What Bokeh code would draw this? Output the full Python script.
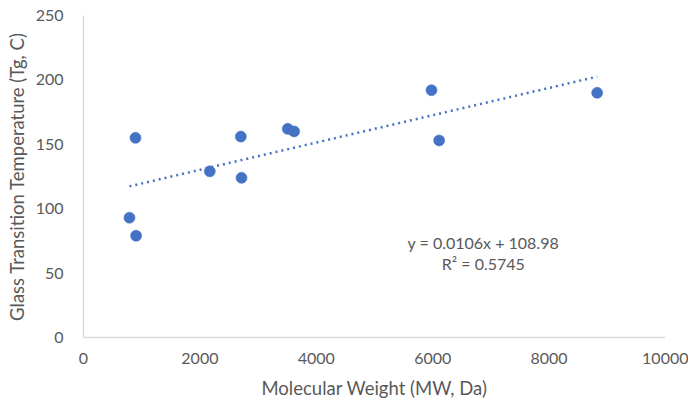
from bokeh.plotting import figure
from bokeh.models import ColumnDataSource, Label, Range1d, FixedTicker
from bokeh.embed import file_html
from bokeh.resources import INLINE

# Data
mw = [790, 904, 893, 2170, 2703, 2715, 3510, 3619, 5979, 6111, 8826]
tg = [93, 79, 155, 129, 156, 124, 162, 160, 192, 153, 190]

slope = 0.0106
intercept = 108.98
r_squared = 0.5745

x_ticks = [0, 2000, 4000, 6000, 8000, 10000]
y_ticks = [0, 50, 100, 150, 200, 250]

x_title = "Molecular Weight (MW, Da)"
y_title = "Glass Transition Temperature (Tg, C)"

FONT = "Lato"
BLUE = "#4472C4"
GREY_TXT = "#595959"
AXIS_COL = "#D9D9D9"

p = figure(width=688, height=402, output_backend="svg", toolbar_location=None,
           x_range=Range1d(0, 10000), y_range=Range1d(0, 250),
           min_border_left=83, min_border_right=23, min_border_top=15,
           min_border_bottom=65)
p.outline_line_color = None
p.grid.visible = False
p.background_fill_color = "white"
p.border_fill_color = "white"

# trendline across data range
tx = [min(mw), max(mw)]
ty = [slope * v + intercept for v in tx]
p.line(tx, ty, line_color=BLUE, line_width=2.5, line_dash="2 4")

src = ColumnDataSource(dict(x=mw, y=tg))
p.scatter("x", "y", source=src, size=11, fill_color=BLUE, line_color=BLUE,
          line_width=1, line_alpha=0.6)

for ax, ticks in ((p.xaxis, x_ticks), (p.yaxis, y_ticks)):
    ax.ticker = FixedTicker(ticks=ticks)
    ax.axis_line_color = AXIS_COL
    ax.axis_line_width = 1.5
    ax.major_tick_line_color = None
    ax.minor_tick_line_color = None
    ax.major_label_text_font = FONT
    ax.major_label_text_font_size = "16px"
    ax.major_label_text_color = GREY_TXT
    ax.axis_label_text_font = FONT
    ax.axis_label_text_font_size = "18.5px"
    ax.axis_label_text_font_style = "normal"
    ax.axis_label_text_color = GREY_TXT

p.xaxis.axis_label = x_title
p.yaxis.axis_label = y_title
p.xaxis.major_label_standoff = 9
p.yaxis.major_label_standoff = 14
p.xaxis.axis_label_standoff = 10
p.yaxis.axis_label_standoff = 5

eq_text = f"y = {slope}x + {intercept}"
r_text = f"R\u00b2 = {r_squared}"
p.add_layout(Label(x=6870, y=74, text=eq_text, text_align="center",
                   text_baseline="middle", text_font=FONT,
                   text_font_size="16px", text_color=GREY_TXT))
p.add_layout(Label(x=6870, y=57.5, text=r_text, text_align="center",
                   text_baseline="middle", text_font=FONT,
                   text_font_size="16px", text_color=GREY_TXT))

open("out.html", "w").write(file_html(p, INLINE))
